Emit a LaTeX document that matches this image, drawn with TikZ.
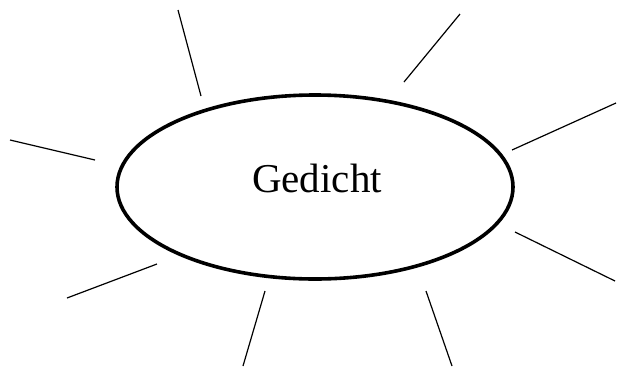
\documentclass[tikz,border=0pt]{standalone}
\usepackage{fontspec}
\setmainfont{Liberation Serif}
\usetikzlibrary{shapes.geometric}
\begin{document}
\begin{tikzpicture}[x=1pt,y=-1pt,
  ray/.style={line width=1.2pt, black},
  bubble/.style={draw, line width=3.6pt, ellipse, minimum width=396pt, minimum height=184pt, inner sep=0pt}]
\useasboundingbox (0,0) rectangle (630,376);
\node[bubble] (g) at (315,187) {};
\node[font=\fontsize{41}{43}\selectfont, anchor=base, inner sep=0pt] (t) at (317,192) {Gedicht};
\coordinate (a1) at (178,10);  \coordinate (b1) at (201,96);
\coordinate (a2) at (460,14);  \coordinate (b2) at (404,82);
\coordinate (a3) at (10,140);  \coordinate (b3) at (95,160);
\coordinate (a4) at (616,103); \coordinate (b4) at (512,150);
\coordinate (a5) at (67,298);  \coordinate (b5) at (157,264);
\coordinate (a6) at (615,281); \coordinate (b6) at (515,232);
\coordinate (a7) at (243,366); \coordinate (b7) at (265,291);
\coordinate (a8) at (452,366); \coordinate (b8) at (426,291);
\foreach \i in {1,...,8} \draw[ray] (a\i) -- (b\i);
\end{tikzpicture}
\end{document}
